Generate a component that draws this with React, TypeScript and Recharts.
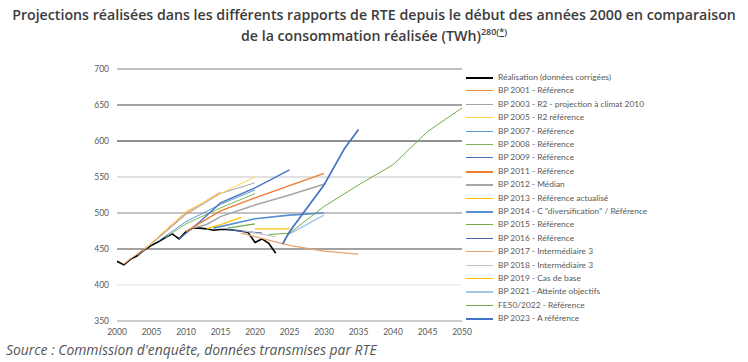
import { Line, LineChart, ReferenceLine, XAxis, YAxis } from "recharts";

type Pt = [number, number];

// Réalisation (données corrigées), TWh
const realisation: Pt[] = [
  [2000, 433], [2001, 428], [2002, 436], [2003, 441], [2004, 449], [2005, 455],
  [2006, 460], [2007, 466], [2008, 471], [2009, 464], [2010, 474], [2011, 479],
  [2012, 479], [2013, 478], [2014, 476], [2015, 477], [2016, 477], [2017, 476],
  [2018, 475], [2019, 473], [2020, 459], [2021, 464], [2022, 458], [2023, 444],
];

const bp2001: Pt[] = [[2001, 429], [2005, 458], [2010, 500], [2015, 529]];
const bp2003: Pt[] = [[2003, 441], [2005, 457], [2010, 498], [2015, 527], [2020, 542]];
const bp2005: Pt[] = [[2004, 450], [2010, 502], [2015, 527], [2020, 550]];
const bp2007: Pt[] = [[2006, 461], [2010, 488], [2015, 512], [2020, 532]];
const bp2008: Pt[] = [[2007, 466], [2010, 485], [2015, 507], [2020, 527]];
const bp2009: Pt[] = [[2009, 464], [2012, 488], [2015, 514], [2020, 535], [2025, 560]];
const bp2011: Pt[] = [[2010, 474], [2012, 486], [2015, 503], [2020, 521], [2025, 538], [2030, 555]];
const bp2012: Pt[] = [[2011, 479], [2013, 484], [2015, 495], [2020, 511], [2025, 525], [2030, 540]];
const bp2013: Pt[] = [[2013, 478], [2015, 484], [2018, 494]];
const bp2014: Pt[] = [[2014, 479], [2020, 492], [2025, 497], [2030, 500]];
const bp2015: Pt[] = [[2016, 479], [2020, 485]];
const bp2016: Pt[] = [[2016, 477], [2021, 472]];
const bp2017: Pt[] = [[2018, 472], [2025, 455], [2030, 447], [2035, 443]];
const bp2018: Pt[] = [[2018, 476], [2023, 467]];
const bp2019: Pt[] = [[2020, 478], [2025, 478]];
const bp2021: Pt[] = [[2025, 471], [2030, 497]];
const fe2022: Pt[] = [[2022, 470], [2025, 472], [2030, 509], [2035, 539], [2040, 567], [2045, 613], [2050, 646]];
const bp2023: Pt[] = [
  [2024, 457], [2025, 474], [2027, 500], [2030, 539], [2033, 590], [2035, 616],
];

const xTicks = [2000, 2005, 2010, 2015, 2020, 2025, 2030, 2035, 2040, 2045, 2050];
const yTicks = [350, 400, 450, 500, 550, 600, 650, 700];
// the gridlines come out in uneven greys in the source picture
const gridColors = ["#9a9a9a", "#e4e4e4", "#444444", "#868686", "#c4c4c4", "#1e1e1e", "#454545", "#858585"];

const series = [
  { name: "Réalisation (données corrigées)", data: realisation, color: "#000000", width: 1.6 },
  { name: "BP 2001 - Référence", data: bp2001, color: "#ED8B45", width: 1 },
  { name: "BP 2003 - R2 - projection à climat 2010", data: bp2003, color: "#A5A5A5", width: 1 },
  { name: "BP 2005 - R2 référence", data: bp2005, color: "#FFD34F", width: 1 },
  { name: "BP 2007 - Référence", data: bp2007, color: "#5B9BD5", width: 1 },
  { name: "BP 2008 - Référence", data: bp2008, color: "#7FB55A", width: 1 },
  { name: "BP 2009 - Référence", data: bp2009, color: "#4472C4", width: 1.3 },
  { name: "BP 2011 - Référence", data: bp2011, color: "#ED7D31", width: 1.5 },
  { name: "BP 2012 - Médian", data: bp2012, color: "#A5A5A5", width: 1.5 },
  { name: "BP 2013 - Référence actualisé", data: bp2013, color: "#FFC000", width: 1.3 },
  { name: 'BP 2014 - C "diversification" / Référence', data: bp2014, color: "#5B8FD0", width: 1.6 },
  { name: "BP 2015 - Référence", data: bp2015, color: "#70AD47", width: 1.3 },
  { name: "BP 2016 - Référence", data: bp2016, color: "#3F66AE", width: 1.3 },
  { name: "BP 2017 - Intermédiaire 3", data: bp2017, color: "#E6A271", width: 1.2 },
  { name: "BP 2018 - Intermédiaire 3", data: bp2018, color: "#C2C2C2", width: 1.2 },
  { name: "BP 2019 - Cas de base", data: bp2019, color: "#FFC000", width: 1.3 },
  { name: "BP 2021 - Atteinte objectifs", data: bp2021, color: "#A3C8E8", width: 1.6 },
  { name: "FE50/2022 - Référence", data: fe2022, color: "#70AD47", width: 1 },
  { name: "BP 2023 - A référence", data: bp2023, color: "#4472C4", width: 1.7 },
];

const tickStyle = { fill: "#595959", fontSize: 8.5, fontFamily: "Lato, 'Liberation Sans', sans-serif" };

export default function App() {
  return (
    <div
      style={{
        position: "absolute",
        left: 0,
        top: 0,
        width: 748,
        height: 362,
        overflow: "hidden",
        background: "#ffffff",
        fontFamily: "'Open Sans', sans-serif",
      }}
    >
      <div
        style={{
          position: "absolute",
          left: 0,
          top: 4,
          width: 748,
          textAlign: "center",
          fontSize: 14.2,
          fontWeight: 600,
          lineHeight: "21px",
          color: "#3c3c3c",
        }}
      >
        Projections réalisées dans les différents rapports de RTE depuis le début des années 2000 en comparaison
        <br />
        de la consommation réalisée (TWh)
        <sup style={{ fontSize: 9, fontWeight: 600, lineHeight: 0 }}>
          280(<span style={{ textDecoration: "underline" }}>*</span>)
        </sup>
      </div>

      <LineChart
        width={748}
        height={362}
        margin={{ top: 69, right: 286, bottom: 21, left: 87 }}
        style={{ position: "absolute", left: 0, top: 0 }}
      >
        {yTicks.map((v, i) => (
          <ReferenceLine key={v} y={v} stroke={gridColors[i]} strokeWidth={1} />
        ))}
        <XAxis
          type="number"
          dataKey="x"
          domain={[2000, 2050]}
          ticks={xTicks}
          axisLine={false}
          tickLine={false}
          height={20}
          tick={tickStyle}
          allowDataOverflow
        />
        <YAxis
          type="number"
          domain={[350, 700]}
          ticks={yTicks}
          axisLine={false}
          tickLine={false}
          width={30}
          tick={tickStyle}
          allowDataOverflow
        />
        {series.map((s) => (
          <Line
            key={s.name}
            data={s.data.map(([x, y]) => ({ x, y }))}
            dataKey="y"
            name={s.name}
            type="linear"
            stroke={s.color}
            strokeWidth={s.width}
            dot={false}
            activeDot={false}
            isAnimationActive={false}
          />
        ))}
      </LineChart>

      <div
        style={{
          position: "absolute",
          left: 466,
          top: 70,
          fontFamily: "Lato, 'Liberation Sans', sans-serif",
          fontSize: 8.4,
          color: "#595959",
        }}
      >
        {series.map((s, i) => (
          <div
            key={s.name}
            style={{ position: "absolute", left: 0, top: Math.round(i * 13.4), height: 14, whiteSpace: "nowrap" }}
          >
            <div
              style={{
                position: "absolute",
                left: 0,
                top: 7,
                width: 27,
                height: Math.max(1, Math.round(s.width)),
                background: s.color,
              }}
            />
            <div style={{ position: "absolute", left: 32, top: 1, lineHeight: "12px" }}>{s.name}</div>
          </div>
        ))}
      </div>

      <div
        style={{
          position: "absolute",
          left: 6,
          top: 340,
          fontSize: 13.9,
          fontStyle: "italic",
          color: "#555555",
          whiteSpace: "nowrap",
        }}
      >
        Source : Commission d'enquête, données transmises par RTE
      </div>
    </div>
  );
}
